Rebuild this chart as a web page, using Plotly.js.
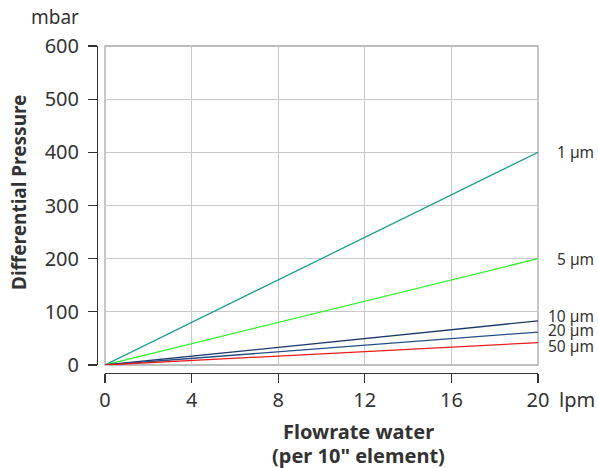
<!DOCTYPE html>
<html><head><meta charset="utf-8">
<script src="https://cdn.plot.ly/plotly-3.0.1.min.js"></script>
<style>html,body{margin:0;padding:0;background:#fff}#chart{width:598px;height:468px}</style>
</head><body><div id="chart"></div>
<script>
const flow = [0, 4, 8, 12, 16, 20];
const seriesNames = ["1 µm", "5 µm", "10 µm", "20 µm", "50 µm"];
const p1 = [0, 80, 160, 240, 320, 400];
const p5 = [0, 40, 80, 120, 160, 200];
const p10 = [0, 16.6, 33.2, 49.8, 66.4, 83];
const p20 = [0, 12.4, 24.8, 37.2, 49.6, 62];
const p50 = [0, 8.4, 16.8, 25.2, 33.6, 42];
const xTicks = [0, 4, 8, 12, 16, 20];
const yTicks = [0, 100, 200, 300, 400, 500, 600];

const values = [p1, p5, p10, p20, p50];
const colors = ["#1c9e8e", "#33ee33", "#1b3a6b", "#234d85", "#ee1c1c"];
const labelShift = [[17, 0], [17, 0], [8, 5], [8, 2], [8, -3]];
const font = "Noto Sans, DejaVu Sans, sans-serif";
const txt = "#333";

const traces = values.map((v, i) => ({
  x: flow, y: v, type: "scatter", mode: "lines", name: seriesNames[i],
  line: {color: colors[i], width: 1.3}, hoverinfo: "skip", cliponaxis: false
}));

const annotations = values.map((v, i) => ({
  x: flow[flow.length - 1], y: v[v.length - 1], xref: "x", yref: "y",
  text: seriesNames[i], showarrow: false, xanchor: "left", yanchor: "middle",
  xshift: labelShift[i][0], yshift: labelShift[i][1],
  font: {family: font, size: 15.5, color: txt}
}));
annotations.push(
  {xref: "paper", yref: "paper", x: (55 - 97) / 441, y: (373 - 17) / 327, text: "mbar", showarrow: false,
   xanchor: "center", yanchor: "middle", font: {family: font, size: 19, color: txt}},
  {xref: "paper", yref: "paper", x: 1.0, y: (373 - 399) / 327, xshift: 19, text: "lpm", showarrow: false,
   xanchor: "left", yanchor: "middle", font: {family: font, size: 20, color: txt}},
  {xref: "paper", yref: "paper", x: (358 - 97) / 441, y: (373 - 432) / 327, text: "<b>Flowrate water</b>",
   showarrow: false, xanchor: "center", yanchor: "middle", font: {family: font, size: 20, color: txt}},
  {xref: "paper", yref: "paper", x: (358 - 97) / 441, y: (373 - 455) / 327, text: "<b>(per 10\" element)</b>",
   showarrow: false, xanchor: "center", yanchor: "middle", font: {family: font, size: 20, color: txt}},
  {xref: "paper", yref: "paper", x: (19 - 97) / 441, y: (373 - 193) / 327, text: "<b>Differential Pressure</b>",
   showarrow: false, textangle: -90, xanchor: "center", yanchor: "middle", font: {family: font, size: 19, color: txt}}
);

const axisCommon = {
  ticks: "outside", ticklen: 9, tickcolor: txt, tickwidth: 1.3,
  showline: true, linecolor: txt, linewidth: 1.3,
  showgrid: true, gridcolor: "#c8c8c8", gridwidth: 1, zeroline: false,
  tickfont: {family: font, size: 20, color: txt}
};

const layout = {
  width: 598, height: 468,
  margin: {l: 97, r: 60, t: 46, b: 95},
  paper_bgcolor: "#fff", plot_bgcolor: "#fff",
  showlegend: false,
  font: {family: font, size: 16, color: txt},
  xaxis: Object.assign({domain: [8 / 441, 1], range: [0, 20], anchor: "free", position: 0, tickvals: xTicks}, axisCommon),
  yaxis: Object.assign({domain: [8 / 327, 1], range: [0, 600], anchor: "free", position: 0, tickvals: yTicks, ticklabelstandoff: 5}, axisCommon),
  shapes: [{type: "rect", xref: "x domain", yref: "y domain", x0: 0, x1: 1, y0: 0, y1: 1,
    line: {color: "#a8a8a8", width: 1.3}, layer: "below"}],
  annotations: annotations
};

Plotly.newPlot("chart", traces, layout, {displayModeBar: false, staticPlot: true});
</script></body></html>
